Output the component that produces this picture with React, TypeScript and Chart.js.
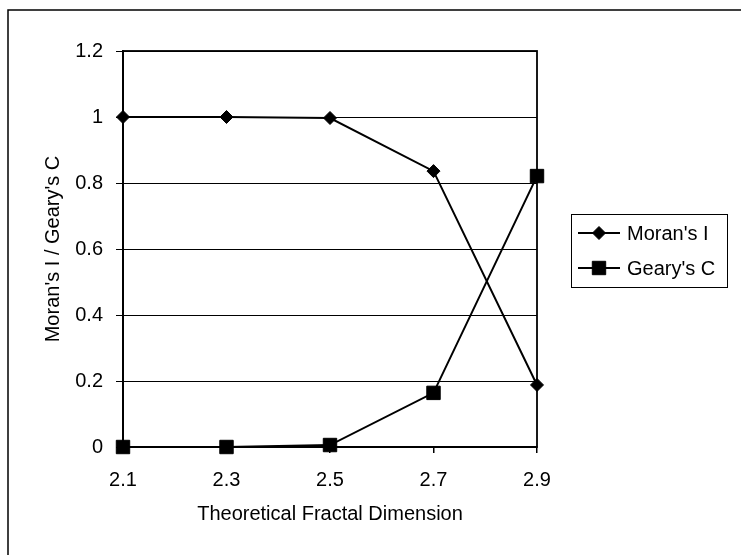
import React, { useEffect, useRef } from "react";
import { Chart, registerables } from "chart.js";

Chart.register(...registerables);

const categories = ["2.1", "2.3", "2.5", "2.7", "2.9"];
const moransI = [1, 1, 0.997, 0.836, 0.188];
const gearysC = [0, 0, 0.006, 0.164, 0.821];
const seriesLabels = ["Moran's I", "Geary's C"];
const Y_MIN = 0;
const Y_MAX = 1.2;
const Y_STEP = 0.2;

const FONT_FAMILY = "'Liberation Sans', Arial, Helvetica, sans-serif";

function drawMarker(ctx: CanvasRenderingContext2D, style: string, x: number, y: number) {
  ctx.beginPath();
  if (style === "rectRot") {
    const r = 6.5;
    ctx.moveTo(x - r, y);
    ctx.lineTo(x, y - r);
    ctx.lineTo(x + r, y);
    ctx.lineTo(x, y + r);
    ctx.closePath();
  } else {
    const h = 6.7;
    ctx.rect(x - h, y - h, 2 * h, 2 * h);
  }
  ctx.fill();
  ctx.stroke();
}

const framePlugin = {
  id: "frame",
  beforeDraw(chart: any) {
    const ctx = chart.ctx;
    ctx.save();
    ctx.fillStyle = "#fff";
    ctx.fillRect(0, 0, chart.width, chart.height);
    ctx.strokeStyle = "#000";
    ctx.lineWidth = 1.5;
    ctx.strokeRect(8, 10, chart.width + 50, chart.height + 50);
    ctx.restore();
  },
  beforeDatasetsDraw(chart: any) {
    const { ctx, chartArea } = chart;
    ctx.save();
    ctx.strokeStyle = "#000";
    ctx.lineWidth = 1.8;
    ctx.strokeRect(chartArea.left, chartArea.top, chartArea.right - chartArea.left, chartArea.bottom - chartArea.top);
    ctx.restore();
  },
  afterDraw(chart: any) {
    const ctx = chart.ctx;
    const boxL = 571, boxT = 214, boxW = 156, boxH = 73;
    const rowGap = 35;
    ctx.save();
    ctx.strokeStyle = "#000";
    ctx.lineWidth = 1;
    ctx.strokeRect(boxL + 0.5, boxT + 0.5, boxW, boxH);
    chart.data.datasets.forEach((ds: any, i: number) => {
      const cy = boxT + 19 + i * rowGap;
      ctx.strokeStyle = "#000";
      ctx.lineWidth = 2;
      ctx.beginPath();
      ctx.moveTo(578, cy);
      ctx.lineTo(620, cy);
      ctx.stroke();
      ctx.fillStyle = "#000";
      ctx.lineWidth = 1;
      drawMarker(ctx, ds.pointStyle, 599, cy);
      ctx.font = `20px ${FONT_FAMILY}`;
      ctx.textBaseline = "middle";
      ctx.textAlign = "left";
      ctx.fillText(ds.label, 627, cy + 1);
    });
    ctx.restore();
  },
};

export default function App() {
  const ref = useRef<HTMLCanvasElement>(null);
  useEffect(() => {
    if (!ref.current) return;
    const chart = new Chart(ref.current, {
      type: "line",
      data: {
        labels: categories,
        datasets: [
          {
            label: seriesLabels[0],
            data: moransI,
            borderColor: "#000",
            backgroundColor: "#000",
            borderWidth: 2,
            pointStyle: "rectRot",
            pointRadius: 6.5,
            pointBorderWidth: 1,
            pointBackgroundColor: "#000",
            pointBorderColor: "#000",
            tension: 0,
            clip: false,
          } as any,
          {
            label: seriesLabels[1],
            data: gearysC,
            borderColor: "#000",
            backgroundColor: "#000",
            borderWidth: 2,
            pointStyle: "rect",
            pointRadius: 9.5,
            pointBorderWidth: 1,
            pointBackgroundColor: "#000",
            pointBorderColor: "#000",
            tension: 0,
            clip: false,
          } as any,
        ],
      },
      options: {
        responsive: false,
        animation: false,
        layout: { padding: { left: 30, top: 51, right: 204, bottom: 28 } },
        plugins: {
          legend: { display: false },
          tooltip: { enabled: false },
        },
        scales: {
          x: {
            type: "category",
            offset: false,
            grid: { display: true, drawOnChartArea: false, drawTicks: true, tickLength: 6, color: "#000", lineWidth: 1.5 },
            border: { display: true, color: "#000", width: 2 },
            ticks: { color: "#000", padding: 15, maxRotation: 0, font: { family: FONT_FAMILY, size: 20 } },
            title: {
              display: true,
              text: "Theoretical Fractal Dimension",
              color: "#000",
              font: { family: FONT_FAMILY, size: 20 },
              padding: { top: 0, bottom: 1 },
            },
            afterFit: (scale: any) => {
              scale.height = 80;
            },
          },
          y: {
            min: Y_MIN,
            max: Y_MAX,
            grid: { color: "#000", lineWidth: 1, drawTicks: true, tickLength: 7 },
            border: { display: true, color: "#000", width: 2 },
            ticks: {
              stepSize: Y_STEP,
              color: "#000",
              padding: 13,
              font: { family: FONT_FAMILY, size: 20 },
              callback: (v: any) => String(Math.round(Number(v) * 10) / 10),
            },
            title: {
              display: true,
              text: "Moran's I / Geary's C",
              color: "#000",
              font: { family: FONT_FAMILY, size: 20 },
              padding: { top: 11, bottom: 0 },
            },
            afterFit: (scale: any) => {
              scale.width = 93;
            },
          },
        },
      },
      plugins: [framePlugin],
    });
    return () => chart.destroy();
  }, []);
  return (
    <div style={{ position: "fixed", left: 0, top: 0, width: 741, height: 555, background: "#fff" }}>
      <canvas ref={ref} width={741} height={555} style={{ display: "block" }} />
    </div>
  );
}
